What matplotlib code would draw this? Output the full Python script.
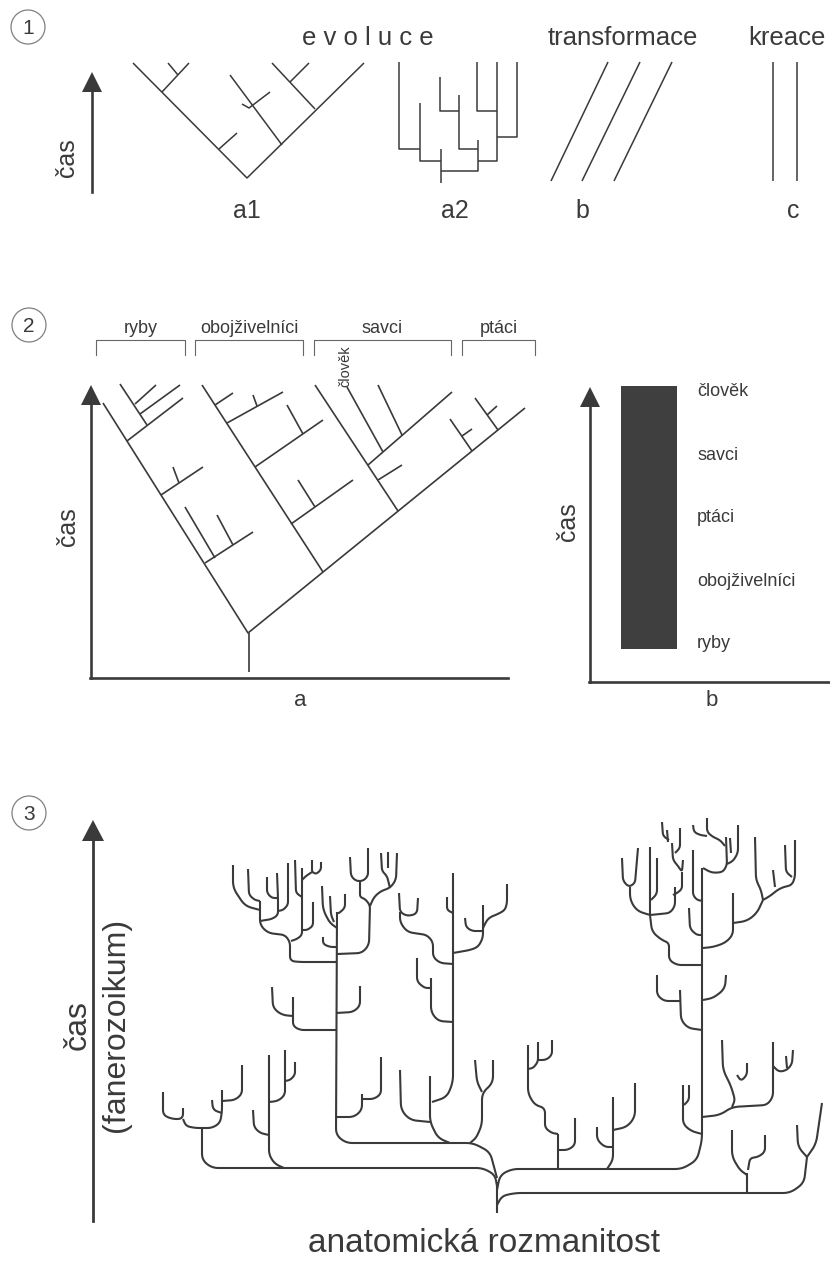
import matplotlib
matplotlib.use("Agg")
import matplotlib.pyplot as plt
import numpy as np
from matplotlib.patches import Circle

plt.rcParams['font.family'] = ['Liberation Sans', 'DejaVu Sans']

INK = '#3a3a3a'

# ---------------- panel 1 ----------------
A1_LINES = [
    [(133, 63), (247, 178), (364, 63)],
    [(162, 92), (189, 63)],
    [(178, 75), (168, 63)],
    [(219, 149), (237, 133)],
    [(282, 145), (230, 75)],
    [(242, 104), (249, 108), (270, 92)],
    [(315, 109), (272, 63)],
    [(290, 82), (309, 63)],
]
A2_LINES = [
    [(399, 62), (399, 149), (420, 149)],
    [(420, 103), (420, 161), (441, 161)],
    [(441, 149), (441, 183)],
    [(441, 171), (478, 171), (478, 140)],
    [(440, 77), (440, 111), (459, 111)],
    [(459, 95), (459, 149), (478, 149)],
    [(477, 62), (477, 111), (497, 111)],
    [(497, 62), (497, 161), (478, 161)],
    [(517, 62), (517, 137), (497, 137)],
]
B_LINES = [
    [(551, 181), (608, 62)],
    [(582, 181), (640, 62)],
    [(614, 181), (672, 62)],
]
C_LINES = [
    [(773, 62), (773, 181)],
    [(797, 62), (797, 181)],
]
P1_TITLES = [("e v o l u c e", 302), ("transformace", 548), ("kreace", 748)]
P1_LETTERS = [("a1", 247), ("a2", 455), ("b", 582), ("c", 793)]

# ---------------- panel 2 ----------------
TREE_2A = [
    [(103, 403), (248, 633), (525, 408)],
    [(249, 672), (249, 633)],
    # ryby
    [(127, 441), (183, 398)],
    [(147, 425), (120, 384)],
    [(135, 404), (156, 385)],
    [(140, 414), (180, 385)],
    [(161, 495), (203, 467)],
    [(179, 483), (173, 467)],
    [(205, 563), (253, 532)],
    [(215, 558), (185, 507)],
    [(233, 545), (217, 515)],
    # obojzivelnici
    [(323, 572), (202, 385)],
    [(227, 423), (283, 392)],
    [(215, 405), (233, 393)],
    [(257, 406), (253, 395)],
    [(255, 467), (323, 420)],
    [(303, 434), (287, 405)],
    [(291, 524), (353, 480)],
    [(315, 507), (298, 480)],
    # savci
    [(398, 511), (315, 385)],
    [(368, 465), (452, 392)],
    [(383, 452), (347, 387)],
    [(402, 435), (378, 385)],
    [(378, 480), (402, 465)],
    # ptaci
    [(472, 451), (450, 419)],
    [(462, 436), (472, 429)],
    [(498, 430), (475, 398)],
    [(487, 415), (497, 406)],
]
GROUPS = ["ryby", "obojživelníci", "savci", "ptáci"]
GROUP_SPAN = [(96, 185), (195, 303), (314, 451), (462, 535)]
SCALE_LABELS = ["člověk", "savci", "ptáci", "obojživelníci", "ryby"]
SCALE_Y = [392, 455, 518, 582, 643]
BAR_TOP, BAR_BOTTOM = 386, 649

# ---------------- panel 3 ----------------
MAIN_3 = [
    [(497, 1213), (497, 1182)],
    [(337, 912), (336, 1135), (346, 1143), (473, 1143), (490, 1152), (497, 1178)],
    [(202, 1128), (202, 1160), (212, 1168), (483, 1168), (495, 1175), (497, 1186)],
    [(702, 868), (702, 1140), (697, 1160), (682, 1169), (512, 1169), (500, 1175), (497, 1190)],
    [(497, 1205), (502, 1196), (515, 1193), (790, 1193), (804, 1183), (807, 1157)],
    [(453, 873), (453, 1082), (447, 1097), (432, 1102)],
]
LEFT_3 = [
    [(163, 1092), (163, 1115), (172, 1119), (183, 1119), (183, 1108)],
    [(183, 1119), (186, 1126), (195, 1128), (212, 1128), (220, 1123), (222, 1112), (222, 1090)],
    [(212, 1100), (213, 1110), (222, 1113)],
    [(242, 1065), (242, 1094), (235, 1100), (222, 1101)],
    [(269, 1055), (269, 1155), (275, 1164), (284, 1168)],
    [(253, 1110), (254, 1127), (260, 1133), (269, 1135)],
    [(285, 1050), (285, 1095), (278, 1101), (269, 1102)],
    [(295, 1062), (295, 1075), (290, 1080), (285, 1081)],
    [(272, 987), (273, 1008), (282, 1015), (293, 1016)],
    [(293, 997), (293, 1026), (300, 1030), (336, 1030)],
    [(360, 986), (360, 1006), (353, 1012), (336, 1013)],
    [(362, 1094), (362, 1110), (354, 1117), (336, 1117)],
    [(381, 1057), (381, 1094), (374, 1099), (362, 1099)],
    [(430, 1076), (430, 1122), (438, 1138), (450, 1143)],
    [(400, 1070), (401, 1110), (410, 1120), (430, 1122)],
    [(475, 1060), (477, 1082), (482, 1092)],
    [(493, 1060), (493, 1083), (482, 1093), (482, 1125), (476, 1138), (470, 1143)],
    [(417, 958), (417, 982), (425, 988), (431, 988)],
    [(431, 978), (431, 1012), (438, 1021), (453, 1022)],
]
CROWN_LEFT = [
    [(233, 865), (233, 888), (245, 906), (260, 910)],
    [(248, 869), (249, 895), (255, 900), (260, 901)],
    [(260, 901), (260, 925), (268, 933), (285, 935), (290, 942), (290, 961), (300, 962), (337, 962)],
    [(267, 877), (267, 893), (272, 898), (278, 898)],
    [(277, 873), (278, 898), (278, 915), (272, 919), (260, 921)],
    [(288, 863), (288, 905), (283, 910), (278, 911)],
    [(295, 860), (296, 893), (302, 897)],
    [(302, 868), (302, 935), (297, 939), (291, 941)],
    [(312, 860), (312, 872), (316, 874), (321, 870), (321, 862)],
    [(312, 872), (306, 876), (302, 880)],
    [(313, 902), (313, 926), (307, 930), (302, 930)],
    [(322, 886), (323, 910), (330, 923), (337, 928)],
    [(330, 896), (331, 915), (334, 922)],
    [(345, 894), (345, 908), (339, 913), (337, 913)],
    [(323, 937), (323, 944), (330, 947), (337, 947)],
    [(337, 954), (362, 953), (369, 945), (370, 905), (365, 899), (360, 897), (360, 882)],
    [(350, 857), (351, 876), (356, 881), (363, 881), (368, 876), (368, 848)],
    [(370, 906), (374, 897), (381, 891), (390, 888), (396, 880), (397, 853)],
    [(381, 853), (382, 871), (387, 876), (390, 888)],
    [(388, 852), (388, 868)],
]
CROWN_MID = [
    [(399, 893), (400, 912), (407, 916), (417, 914), (418, 898)],
    [(400, 912), (400, 922), (407, 932), (427, 935), (433, 942), (433, 957), (440, 963), (453, 964)],
    [(447, 897), (447, 910), (453, 913)],
    [(453, 953), (470, 950), (478, 947), (483, 938), (483, 905)],
    [(483, 928), (488, 918), (498, 914), (505, 910), (507, 903), (507, 884)],
    [(465, 918), (466, 927), (472, 931), (483, 931)],
]
CROWN_RIGHT = [
    [(693, 850), (693, 895), (697, 900), (703, 901)],
    [(703, 868), (712, 873), (723, 872), (727, 865), (726, 837)],
    [(707, 818), (707, 832), (713, 837), (720, 840), (725, 846)],
    [(730, 838), (731, 853)],
    [(738, 825), (738, 853), (733, 861), (727, 864)],
    [(693, 825), (694, 832), (700, 835), (707, 836)],
    [(662, 822), (663, 836), (669, 840)],
    [(667, 830), (668, 842)],
    [(680, 828), (680, 848), (675, 853)],
    [(672, 843), (673, 860), (678, 866), (682, 872), (683, 860)],
    [(682, 872), (682, 889), (677, 893), (673, 895)],
    [(622, 858), (623, 881), (629, 887), (635, 883), (638, 848)],
    [(630, 887), (630, 900), (637, 911), (650, 915)],
    [(650, 847), (650, 915)],
    [(657, 858), (657, 894), (651, 900)],
    [(650, 915), (670, 913), (675, 906), (675, 887)],
    [(650, 915), (652, 932), (662, 940), (669, 943), (669, 960), (677, 965), (702, 965)],
    [(689, 908), (690, 929), (697, 935), (703, 935)],
    [(703, 948), (713, 947), (725, 943), (733, 935), (733, 893)],
    [(733, 923), (747, 921), (757, 913), (763, 900)],
    [(755, 837), (756, 880), (761, 890), (763, 900)],
    [(763, 900), (770, 896), (780, 888), (792, 885), (795, 877), (795, 840)],
    [(773, 870), (775, 887)],
    [(785, 845), (786, 872), (792, 877)],
]
RIGHT_3 = [
    [(657, 975), (657, 995), (664, 1001), (680, 1001)],
    [(680, 990), (681, 1020), (688, 1028), (702, 1030)],
    [(703, 1000), (713, 998), (725, 989), (726, 975)],
    [(683, 1085), (683, 1124), (691, 1131), (702, 1134)],
    [(689, 1085), (689, 1100), (684, 1105)],
    [(702, 1117), (720, 1115), (732, 1107), (767, 1105), (773, 1097), (773, 1042)],
    [(722, 1040), (723, 1070), (731, 1086), (735, 1100), (732, 1107)],
    [(737, 1075), (741, 1081), (747, 1075), (747, 1063)],
    [(773, 1066), (779, 1072), (787, 1070), (792, 1064), (793, 1050)],
    [(786, 1056), (787, 1068)],
    [(528, 1045), (528, 1094), (535, 1105), (545, 1108), (545, 1128), (552, 1133), (558, 1134)],
    [(558, 1134), (558, 1169)],
    [(575, 1118), (575, 1145), (568, 1150), (558, 1150)],
    [(538, 1042), (538, 1062), (533, 1068), (528, 1069)],
    [(552, 1040), (552, 1055), (546, 1060), (538, 1060)],
    [(613, 1097), (613, 1160), (607, 1169)],
    [(597, 1127), (597, 1140), (605, 1147), (613, 1147)],
    [(635, 1083), (635, 1117), (627, 1127), (613, 1130)],
    [(797, 1125), (798, 1147), (807, 1157)],
    [(807, 1157), (816, 1144), (822, 1103)],
    [(747, 1173), (747, 1193)],
    [(732, 1130), (732, 1157), (740, 1170), (747, 1175)],
    [(765, 1135), (765, 1152), (758, 1157), (750, 1158), (748, 1170)],
]


def rounded(pts, r=6, n=8):
    pts = np.asarray(pts, float)
    if len(pts) < 3 or r <= 0:
        return pts
    out = [pts[0]]
    for i in range(1, len(pts) - 1):
        p0, p1, p2 = pts[i - 1], pts[i], pts[i + 1]
        d1, d2 = p0 - p1, p2 - p1
        l1, l2 = np.hypot(*d1), np.hypot(*d2)
        if l1 == 0 or l2 == 0:
            continue
        rr = min(r, l1 / 2, l2 / 2)
        a = p1 + d1 / l1 * rr
        b = p1 + d2 / l2 * rr
        t = np.linspace(0, 1, n)[:, None]
        out.extend((1 - t) ** 2 * a + 2 * (1 - t) * t * p1 + t ** 2 * b)
    out.append(pts[-1])
    return np.array(out)


def draw(lines, lw, r=0, color=INK):
    for pts in lines:
        xy = rounded(pts, r)
        ax.plot(xy[:, 0], xy[:, 1], color=color, lw=lw,
                solid_capstyle='butt', solid_joinstyle='round')


def arrow(x, y_bottom, y_tip, lw=1.9, head=20, half=10):
    ax.plot([x, x], [y_bottom, y_tip + head - 2], color=INK, lw=lw)
    ax.fill([x - half, x + half, x], [y_tip + head, y_tip + head, y_tip],
            color=INK, lw=0)


fig = plt.figure(figsize=(8.3, 12.63), dpi=100)
ax = fig.add_axes([0, 0, 1, 1])
ax.set_xlim(0, 830)
ax.set_ylim(1263, 0)
ax.axis('off')

# circled numbers
for num, (cx, cy) in zip(["1", "2", "3"], [(28, 27), (29, 325), (29, 813)]):
    ax.add_patch(Circle((cx, cy), 17, fill=False, ec='#808080', lw=0.9))
    ax.text(cx, cy + 1, num, ha='center', va='center', fontsize=15, color=INK)

# ---- panel 1
arrow(92, 192, 72)
ax.text(67, 158, "čas", rotation=90, ha='center', va='center', fontsize=18, color=INK)
draw(A1_LINES, 1.1)
draw(A2_LINES, 1.1)
draw(B_LINES, 1.1)
draw(C_LINES, 1.1)
for txt, x in P1_TITLES:
    ax.text(x, 45, txt, ha='left', va='baseline', fontsize=18.5, color=INK)
for txt, x in P1_LETTERS:
    ax.text(x, 218, txt, ha='center', va='baseline', fontsize=18, color=INK)

# ---- panel 2a
arrow(91, 678, 385)
ax.plot([90, 508], [678, 678], color=INK, lw=1.9)
ax.text(68, 527, "čas", rotation=90, ha='center', va='center', fontsize=18, color=INK)
draw(TREE_2A, 1.2)
for name, (x0, x1) in zip(GROUPS, GROUP_SPAN):
    ax.plot([x0, x0, x1, x1], [355, 340, 340, 355], color='#666666', lw=0.8)
    ax.text((x0 + x1) / 2, 333, name, ha='center', va='baseline', fontsize=13, color=INK)
ax.text(345, 366, "člověk", rotation=90, ha='center', va='center', fontsize=10.5, color=INK)
ax.text(300, 700, "a", ha='center', va='center', fontsize=16, color=INK)

# ---- panel 2b
arrow(590, 682, 387)
ax.plot([589, 830], [682, 682], color=INK, lw=1.9)
ax.bar(649, BAR_BOTTOM - BAR_TOP, width=56, bottom=BAR_TOP, color='#3f3f3f', lw=0)
for lab, y in zip(SCALE_LABELS, SCALE_Y):
    ax.text(697, y, lab, ha='left', va='center', fontsize=13, color=INK)
ax.text(568, 522, "čas", rotation=90, ha='center', va='center', fontsize=18, color=INK)
ax.text(712, 700, "b", ha='center', va='center', fontsize=16, color=INK)

# ---- panel 3
arrow(93, 1221, 820, lw=2.0, head=21, half=11)
ax.text(78, 1025, "čas", rotation=90, ha='center', va='center', fontsize=23, color=INK)
ax.text(116, 1025, "(fanerozoikum)", rotation=90, ha='center', va='center',
        fontsize=23, color=INK)
for group in (MAIN_3, LEFT_3, CROWN_LEFT, CROWN_MID, CROWN_RIGHT, RIGHT_3):
    draw(group, 1.5, r=7)
ax.text(484, 1252, "anatomická rozmanitost", ha='center', va='baseline',
        fontsize=24, color=INK)

fig.savefig("out.png", dpi=100, facecolor='white')
